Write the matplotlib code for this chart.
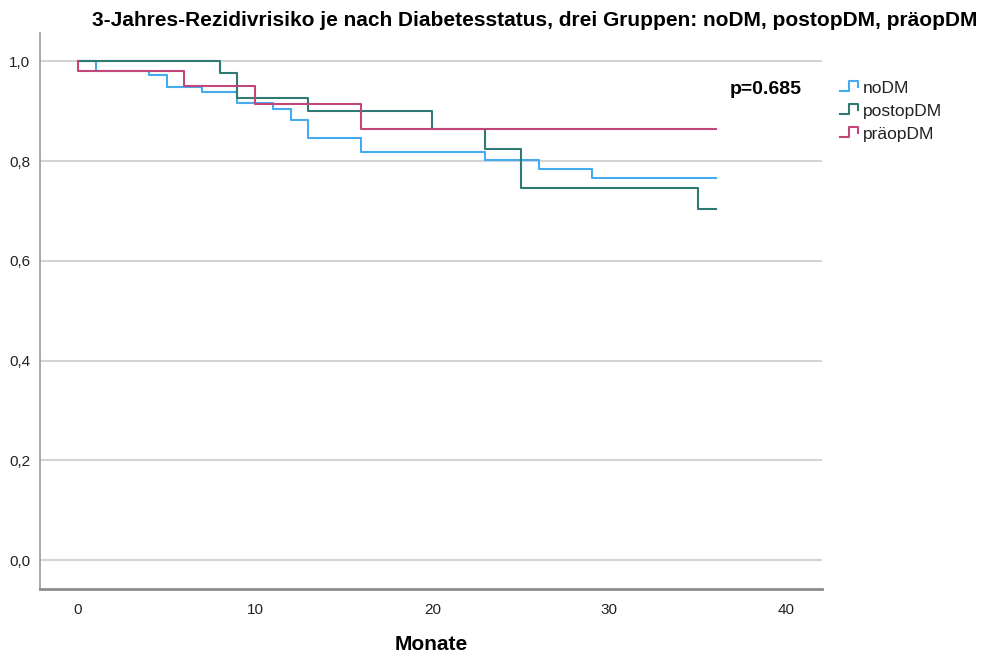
import matplotlib
matplotlib.use("Agg")
import matplotlib.pyplot as plt
from matplotlib.legend_handler import HandlerLine2D
from matplotlib.lines import Line2D
from matplotlib.ticker import FuncFormatter

plt.rcParams['font.family'] = ['Liberation Sans', 'DejaVu Sans']

# Kaplan-Meier step data (time in months, survival)
nodm_t = [0, 1, 4, 5, 7, 9, 11, 12, 13, 16, 23, 26, 29, 36]
nodm_s = [1.0, 0.980, 0.972, 0.949, 0.939, 0.917, 0.905, 0.882, 0.846, 0.819, 0.802, 0.785, 0.767, 0.767]

postop_t = [0, 8, 9, 13, 20, 23, 25, 35, 36]
postop_s = [1.0, 0.977, 0.927, 0.900, 0.864, 0.825, 0.746, 0.705, 0.705]

praeop_t = [0, 0, 6, 10, 16, 36]
praeop_s = [1.0, 0.980, 0.950, 0.915, 0.864, 0.864]

series_names = ["noDM", "postopDM", "präopDM"]
series_colors = ["#45aaee", "#2f7a72", "#c2467a"]

title = "3-Jahres-Rezidivrisiko je nach Diabetesstatus, drei Gruppen: noDM, postopDM, präopDM"
xlabel = "Monate"
p_text = "p=0.685"
xticks = [0, 10, 20, 30, 40]
yticks = [0.0, 0.2, 0.4, 0.6, 0.8, 1.0]

fig = plt.figure(figsize=(9.99, 6.61), dpi=100)
ax = fig.add_axes([40/999, 1-589/661, (822-40)/999, (589-33)/661])

for y in yticks:
    ax.axhline(y, color="#d4d4d4", lw=1.5, zorder=0)

handles = []
for t, s, name, col in zip([nodm_t, postop_t, praeop_t],
                           [nodm_s, postop_s, praeop_s],
                           series_names, series_colors):
    h, = ax.step(t, s, where="post", color=col, lw=1.5, label=name)
    handles.append(h)


class StepHandler(HandlerLine2D):
    def create_artists(self, legend, orig_handle, xdescent, ydescent,
                       width, height, fontsize, trans):
        x0 = -xdescent
        y0 = -ydescent
        xs = [x0, x0 + width * 0.5, x0 + width * 0.5, x0 + width, x0 + width]
        ys = [y0 + height * 0.1, y0 + height * 0.1, y0 + height * 0.95,
              y0 + height * 0.95, y0 + height * 0.5]
        ln = Line2D(xs, ys, color=orig_handle.get_color(), lw=1.5)
        ln.set_transform(trans)
        return [ln]


leg = fig.legend(handles=handles, labels=series_names,
                 loc="upper left", bbox_to_anchor=(840/999, 1-80.5/661),
                 frameon=False, fontsize=12.5, handlelength=1.05,
                 handletextpad=0.25, labelspacing=0.45,
                 borderpad=0, borderaxespad=0,
                 handler_map={Line2D: StepHandler()})
for txt in leg.get_texts():
    txt.set_color("#222222")

ax.text(36.8, 0.944, p_text, fontsize=14, fontweight="bold", ha="left", va="center")

ax.set_xlim(-2.15, 42.0)
ax.set_ylim(-0.058, 1.057)
ax.set_xticks(xticks)
ax.set_yticks(yticks)
ax.yaxis.set_major_formatter(FuncFormatter(lambda v, p: f"{v:.1f}".replace(".", ",")))
ax.tick_params(axis="both", length=0, labelsize=11, colors="#222222")
ax.tick_params(axis="x", pad=10)
ax.tick_params(axis="y", pad=7)

for side in ["top", "right"]:
    ax.spines[side].set_visible(False)
ax.spines["left"].set_color("#9a9a9a")
ax.spines["left"].set_linewidth(1.2)
ax.spines["bottom"].set_color("#8c8c8c")
ax.spines["bottom"].set_linewidth(2.0)

fig.text(431/999, 1-645/661, xlabel, fontsize=15, fontweight="bold",
         ha="center", va="center")

fig.text(535/999, 1-20/661, title, fontsize=15, fontweight="bold",
         ha="center", va="center")

fig.savefig("out.png", dpi=100, facecolor="white")
